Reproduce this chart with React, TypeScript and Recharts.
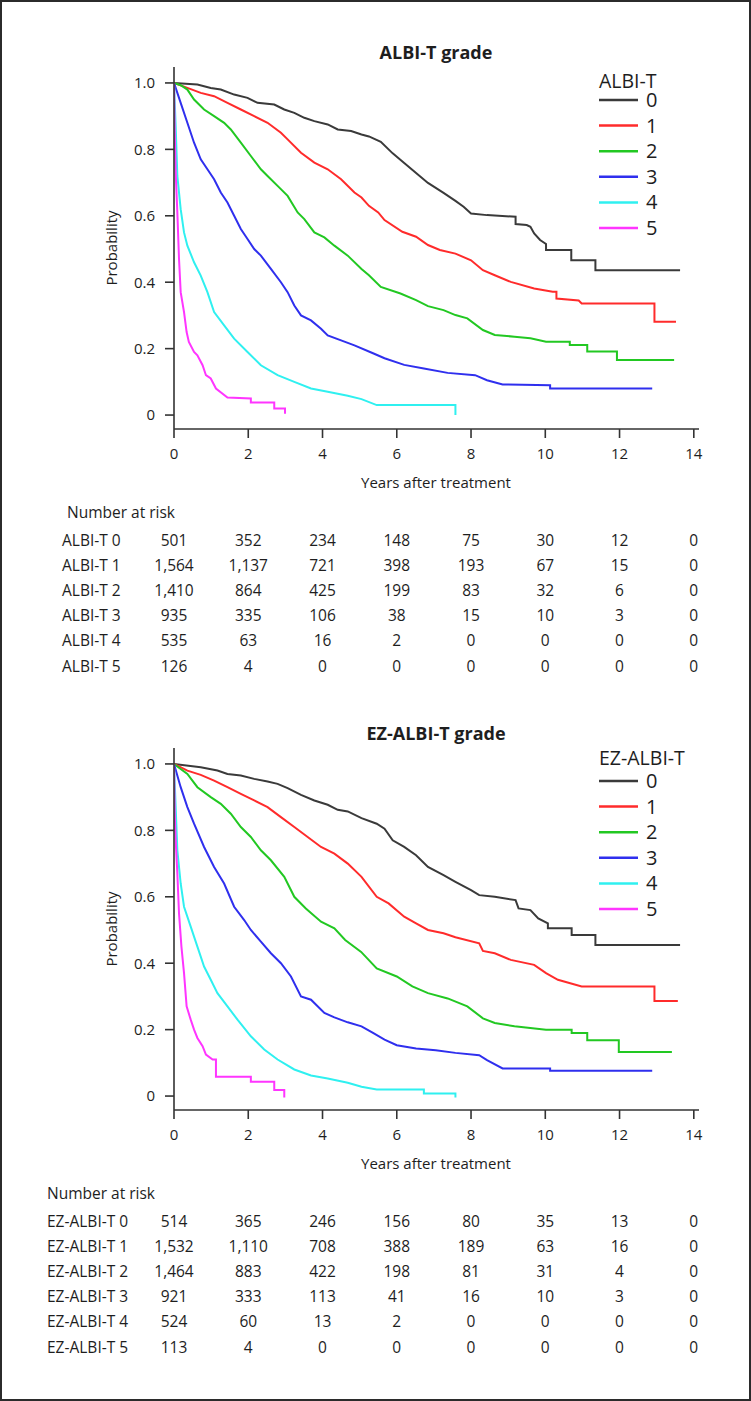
import { LineChart, Line, XAxis, YAxis } from "recharts";

type Pt = [number, number];

const FONT = '"Open Sans", sans-serif';

const yearTicks = [0, 2, 4, 6, 8, 10, 12, 14];
const probTicks = [0, 0.2, 0.4, 0.6, 0.8, 1.0];
const groupNames = ["0", "1", "2", "3", "4", "5"];
const colors = ["#3a3a3a", "#ff2b2b", "#22c822", "#2f2fee", "#2ff0f0", "#ff35ff"];

// ALBI-T grade curves [years, survival], vertices
const albi0: Pt[] = [
  [0, 1], [0.63, 0.995], [0.99, 0.985], [1.26, 0.98], [1.62, 0.965], [1.98, 0.955], [2.25, 0.94],
  [2.7, 0.935], [2.97, 0.92], [3.24, 0.91], [3.51, 0.895], [3.78, 0.885], [4.14, 0.875], [4.41, 0.86],
  [4.77, 0.855], [5.05, 0.845], [5.25, 0.839], [5.57, 0.823], [5.89, 0.788], [6.2, 0.759], [6.52, 0.729],
  [6.84, 0.699], [7.26, 0.669], [7.58, 0.645], [7.8, 0.627], [8.0, 0.607], [8.43, 0.602], [9.2, 0.597],
  [9.2, 0.575], [9.5, 0.572], [9.6, 0.567], [9.7, 0.547], [9.86, 0.527], [10.02, 0.515], [10.02, 0.497],
  [10.7, 0.497], [10.7, 0.466], [11.35, 0.466], [11.35, 0.436], [13.63, 0.436],
];
const albi1: Pt[] = [
  [0, 1], [0.36, 0.985], [0.72, 0.97], [1.08, 0.96], [1.44, 0.94], [1.8, 0.92], [2.16, 0.9], [2.52, 0.88],
  [2.88, 0.85], [3.06, 0.83], [3.42, 0.79], [3.78, 0.76], [4.14, 0.74], [4.5, 0.71], [4.86, 0.67],
  [5.05, 0.655], [5.25, 0.63], [5.5, 0.61], [5.67, 0.587], [6.15, 0.552], [6.52, 0.537], [6.84, 0.512],
  [7.16, 0.497], [7.58, 0.486], [8.0, 0.466], [8.32, 0.436], [8.64, 0.421], [9.07, 0.401], [9.7, 0.381],
  [10.2, 0.371], [10.3, 0.371], [10.3, 0.351], [10.9, 0.345], [10.98, 0.336], [12.94, 0.336],
  [12.94, 0.281], [13.52, 0.281],
];
const albi2: Pt[] = [
  [0, 1], [0.18, 0.993], [0.36, 0.98], [0.54, 0.95], [0.81, 0.92], [1.08, 0.9], [1.35, 0.88], [1.53, 0.86],
  [1.8, 0.82], [2.07, 0.78], [2.34, 0.74], [2.52, 0.72], [2.79, 0.69], [3.06, 0.66], [3.33, 0.61],
  [3.51, 0.59], [3.78, 0.55], [4.05, 0.535], [4.32, 0.51], [4.68, 0.48], [5.05, 0.44], [5.25, 0.421],
  [5.57, 0.386], [6.1, 0.366], [6.52, 0.346], [6.84, 0.328], [7.26, 0.316], [7.58, 0.301], [7.9, 0.291],
  [8.32, 0.256], [8.64, 0.241], [9.17, 0.236], [9.6, 0.231], [10.02, 0.221], [10.66, 0.221],
  [10.66, 0.211], [11.13, 0.211], [11.13, 0.191], [11.93, 0.191], [11.93, 0.166], [13.47, 0.166],
];
const albi3: Pt[] = [
  [0, 1], [0.18, 0.94], [0.36, 0.88], [0.54, 0.82], [0.72, 0.77], [0.9, 0.74], [1.08, 0.71], [1.26, 0.67],
  [1.44, 0.64], [1.62, 0.6], [1.8, 0.56], [1.98, 0.53], [2.16, 0.5], [2.34, 0.48], [2.61, 0.44],
  [2.88, 0.4], [3.06, 0.37], [3.24, 0.33], [3.42, 0.3], [3.69, 0.285], [3.96, 0.26], [4.14, 0.24],
  [4.5, 0.225], [4.86, 0.21], [5.36, 0.186], [5.67, 0.171], [6.2, 0.151], [6.73, 0.14], [7.37, 0.127],
  [8.11, 0.12], [8.43, 0.105], [8.85, 0.092], [10.13, 0.09], [10.13, 0.08], [12.88, 0.08],
];
const albi4: Pt[] = [
  [0, 1], [0.045, 0.87], [0.09, 0.72], [0.18, 0.62], [0.27, 0.55], [0.36, 0.51], [0.54, 0.46], [0.72, 0.42],
  [0.9, 0.37], [1.08, 0.31], [1.35, 0.27], [1.62, 0.23], [1.98, 0.19], [2.34, 0.15], [2.79, 0.12],
  [3.24, 0.1], [3.69, 0.08], [4.14, 0.07], [4.68, 0.058], [5.05, 0.048], [5.46, 0.03], [7.58, 0.03],
  [7.58, 0.0],
];
const albi5: Pt[] = [
  [0, 1], [0.02, 0.85], [0.045, 0.73], [0.09, 0.61], [0.135, 0.47], [0.18, 0.37], [0.27, 0.31],
  [0.34, 0.25], [0.4, 0.22], [0.54, 0.19], [0.63, 0.18], [0.77, 0.15], [0.86, 0.12], [0.99, 0.11],
  [1.13, 0.08], [1.44, 0.053], [2.07, 0.05], [2.07, 0.038], [2.7, 0.038], [2.7, 0.02], [2.99, 0.02],
  [2.99, 0.004],
];

// EZ-ALBI-T grade curves
const ez0: Pt[] = [
  [0, 1], [0.72, 0.99], [1.17, 0.98], [1.44, 0.97], [1.8, 0.965], [2.16, 0.955], [2.52, 0.947],
  [2.79, 0.94], [3.06, 0.927], [3.42, 0.907], [3.78, 0.89], [4.14, 0.877], [4.41, 0.862], [4.68, 0.857],
  [5.05, 0.837], [5.46, 0.82], [5.67, 0.805], [5.89, 0.77], [6.2, 0.75], [6.52, 0.725], [6.84, 0.69],
  [7.26, 0.665], [7.58, 0.645], [8.0, 0.62], [8.22, 0.605], [8.64, 0.6], [9.2, 0.59], [9.28, 0.565],
  [9.6, 0.56], [9.81, 0.535], [10.07, 0.52], [10.07, 0.505], [10.71, 0.505], [10.71, 0.485],
  [11.35, 0.485], [11.35, 0.455], [13.63, 0.455],
];
const ez1: Pt[] = [
  [0, 1], [0.36, 0.98], [0.72, 0.967], [1.08, 0.95], [1.44, 0.93], [1.8, 0.91], [2.16, 0.89], [2.52, 0.87],
  [2.88, 0.84], [3.24, 0.81], [3.6, 0.78], [3.96, 0.75], [4.32, 0.73], [4.68, 0.7], [5.05, 0.66],
  [5.46, 0.6], [5.78, 0.58], [6.2, 0.54], [6.52, 0.52], [6.84, 0.5], [7.26, 0.49], [7.58, 0.478],
  [8.22, 0.46], [8.32, 0.437], [8.64, 0.43], [9.07, 0.41], [9.7, 0.395], [10.02, 0.37], [10.34, 0.35],
  [10.98, 0.33], [12.94, 0.33], [12.94, 0.286], [13.57, 0.286],
];
const ez2: Pt[] = [
  [0, 1], [0.36, 0.97], [0.63, 0.93], [0.99, 0.9], [1.26, 0.88], [1.53, 0.85], [1.8, 0.81], [2.07, 0.78],
  [2.34, 0.74], [2.61, 0.71], [2.97, 0.66], [3.24, 0.6], [3.55, 0.565], [3.96, 0.525], [4.32, 0.505],
  [4.61, 0.47], [5.04, 0.434], [5.46, 0.384], [6.0, 0.36], [6.42, 0.33], [6.84, 0.31], [7.37, 0.294],
  [7.9, 0.27], [8.32, 0.234], [8.64, 0.22], [9.17, 0.21], [10.02, 0.2], [10.71, 0.2], [10.71, 0.19],
  [11.13, 0.19], [11.13, 0.168], [11.98, 0.168], [11.98, 0.133], [13.41, 0.133],
];
const ez3: Pt[] = [
  [0, 1], [0.18, 0.93], [0.36, 0.87], [0.54, 0.82], [0.81, 0.75], [1.08, 0.69], [1.35, 0.64], [1.62, 0.57],
  [1.89, 0.53], [2.07, 0.5], [2.34, 0.465], [2.61, 0.43], [2.88, 0.4], [3.15, 0.36], [3.42, 0.3],
  [3.69, 0.29], [4.05, 0.25], [4.32, 0.237], [4.68, 0.222], [5.05, 0.21], [5.36, 0.19], [5.67, 0.17],
  [6.0, 0.153], [6.52, 0.143], [7.05, 0.138], [7.58, 0.13], [8.22, 0.123], [8.43, 0.108], [8.85, 0.083],
  [10.13, 0.083], [10.13, 0.076], [12.88, 0.076],
];
const ez4: Pt[] = [
  [0, 1], [0.045, 0.87], [0.09, 0.74], [0.18, 0.64], [0.27, 0.57], [0.45, 0.51], [0.63, 0.45], [0.81, 0.39],
  [0.99, 0.35], [1.17, 0.31], [1.44, 0.27], [1.71, 0.23], [2.07, 0.18], [2.43, 0.14], [2.79, 0.11],
  [3.24, 0.08], [3.69, 0.062], [4.14, 0.053], [4.68, 0.04], [5.05, 0.028], [5.46, 0.02], [6.73, 0.02],
  [6.73, 0.008], [7.58, 0.008], [7.58, -0.004],
];
const ez5: Pt[] = [
  [0, 1], [0.02, 0.85], [0.045, 0.77], [0.09, 0.67], [0.135, 0.55], [0.2, 0.45], [0.27, 0.37], [0.34, 0.27],
  [0.45, 0.23], [0.54, 0.2], [0.63, 0.175], [0.77, 0.15], [0.86, 0.125], [1.04, 0.11], [1.13, 0.11],
  [1.13, 0.058], [2.07, 0.058], [2.07, 0.043], [2.7, 0.043], [2.7, 0.018], [2.97, 0.018], [2.97, -0.004],
];

// number at risk
const albiRiskLabels = ["ALBI-T 0", "ALBI-T 1", "ALBI-T 2", "ALBI-T 3", "ALBI-T 4", "ALBI-T 5"];
const albiRisk0 = [501, 352, 234, 148, 75, 30, 12, 0];
const albiRisk1 = [1564, 1137, 721, 398, 193, 67, 15, 0];
const albiRisk2 = [1410, 864, 425, 199, 83, 32, 6, 0];
const albiRisk3 = [935, 335, 106, 38, 15, 10, 3, 0];
const albiRisk4 = [535, 63, 16, 2, 0, 0, 0, 0];
const albiRisk5 = [126, 4, 0, 0, 0, 0, 0, 0];

const ezRiskLabels = ["EZ-ALBI-T 0", "EZ-ALBI-T 1", "EZ-ALBI-T 2", "EZ-ALBI-T 3", "EZ-ALBI-T 4", "EZ-ALBI-T 5"];
const ezRisk0 = [514, 365, 246, 156, 80, 35, 13, 0];
const ezRisk1 = [1532, 1110, 708, 388, 189, 63, 16, 0];
const ezRisk2 = [1464, 883, 422, 198, 81, 31, 4, 0];
const ezRisk3 = [921, 333, 113, 41, 16, 10, 3, 0];
const ezRisk4 = [524, 60, 13, 2, 0, 0, 0, 0];
const ezRisk5 = [113, 4, 0, 0, 0, 0, 0, 0];

// plot geometry
const PLOT_LEFT = 174;
const PLOT_RIGHT = 699;
const X_MAX = 14.14;
const Y_MIN = -0.042;
const Y_MAX = 1.048;
const xPos = (t: number) => PLOT_LEFT + (t / X_MAX) * (PLOT_RIGHT - PLOT_LEFT);

const fmtProb = (v: number) => (v === 0 ? "0" : v.toFixed(1));
const fmtCount = (v: number) => v.toLocaleString("en-US");

type PanelProps = {
  top: number;
  title: string;
  legendTitle: string;
  legendTitleY: number;
  curves: Pt[][];
  riskLabels: string[];
  risk: number[][];
  headerX: number;
  labelX: number;
};

function Panel({ top, title, legendTitle, legendTitleY, curves, riskLabels, risk, headerX, labelX }: PanelProps) {
  const txt = { fontFamily: FONT, fill: "#1e1e1e" };
  return (
    <div style={{ position: "absolute", left: 0, top, width: 751, height: 700 }}>
      <div style={{ position: "absolute", left: 0, top: 0 }}>
        <LineChart width={751} height={500} margin={{ top: 67, right: 751 - PLOT_RIGHT, bottom: 0, left: PLOT_LEFT - 60 }}>
          <XAxis
            type="number"
            dataKey="t"
            domain={[0, X_MAX]}
            ticks={yearTicks}
            interval={0}
            height={71}
            tickSize={9}
            tickMargin={10}
            stroke="#333"
            strokeWidth={1.6}
            tick={{ fill: "#1e1e1e", fontSize: 15, fontFamily: FONT }}
            allowDataOverflow
          />
          <YAxis
            type="number"
            domain={[Y_MIN, Y_MAX]}
            ticks={probTicks}
            interval={0}
            width={60}
            tickSize={9}
            tickMargin={10}
            tickFormatter={fmtProb}
            stroke="#333"
            strokeWidth={1.6}
            tick={{ fill: "#1e1e1e", fontSize: 15, fontFamily: FONT }}
            allowDataOverflow
          />
          {curves.map((c, i) => (
            <Line
              key={i}
              data={c.map(([t, p]) => ({ t, p }))}
              dataKey="p"
              type="linear"
              stroke={colors[i]}
              strokeWidth={2}
              dot={false}
              isAnimationActive={false}
            />
          ))}
        </LineChart>
      </div>
      <svg width={751} height={700} style={{ position: "absolute", left: 0, top: 0, overflow: "visible", pointerEvents: "none" }}>
        <text x={436} y={59} textAnchor="middle" fontSize={18} fontWeight="bold" {...txt}>{title}</text>
        <text transform="translate(117,248) rotate(-90)" textAnchor="middle" fontSize={15} {...txt}>Probability</text>
        <text x={436} y={488} textAnchor="middle" fontSize={15} {...txt}>Years after treatment</text>
        <text x={599} y={legendTitleY + 7} fontSize={19.5} {...txt}>{legendTitle}</text>
        {groupNames.map((g, i) => {
          const y = 100 + i * 25.6;
          return (
            <g key={g}>
              <line x1={599} x2={638} y1={y} y2={y} stroke={colors[i]} strokeWidth={2.5} />
              <text x={646} y={y + 7} fontSize={20} {...txt}>{g}</text>
            </g>
          );
        })}
        <text x={headerX} y={512 + 5.5} fontSize={15.5} {...txt}>Number at risk</text>
        {risk.map((row, r) => {
          const y = 540 + r * 25.2 + 5.5;
          return (
            <g key={r}>
              <text x={labelX} y={y} fontSize={15.5} {...txt}>{riskLabels[r]}</text>
              {row.map((v, k) => (
                <text key={k} x={xPos(yearTicks[k])} y={y} textAnchor="middle" fontSize={15.5} {...txt}>{fmtCount(v)}</text>
              ))}
            </g>
          );
        })}
      </svg>
    </div>
  );
}

export default function App() {
  return (
    <div style={{ position: "absolute", left: 0, top: 0, width: 751, height: 1401, background: "#fff" }}>
      <div style={{ position: "absolute", left: 0, top: 0, width: 751, height: 1401, boxSizing: "border-box", border: "2px solid #2b2b2b" }} />
      <Panel
        top={0}
        title="ALBI-T grade"
        legendTitle="ALBI-T"
        legendTitleY={81}
        curves={[albi0, albi1, albi2, albi3, albi4, albi5]}
        riskLabels={albiRiskLabels}
        risk={[albiRisk0, albiRisk1, albiRisk2, albiRisk3, albiRisk4, albiRisk5]}
        headerX={67}
        labelX={62}
      />
      <Panel
        top={681}
        title="EZ-ALBI-T grade"
        legendTitle="EZ-ALBI-T"
        legendTitleY={77}
        curves={[ez0, ez1, ez2, ez3, ez4, ez5]}
        riskLabels={ezRiskLabels}
        risk={[ezRisk0, ezRisk1, ezRisk2, ezRisk3, ezRisk4, ezRisk5]}
        headerX={47}
        labelX={47}
      />
    </div>
  );
}
